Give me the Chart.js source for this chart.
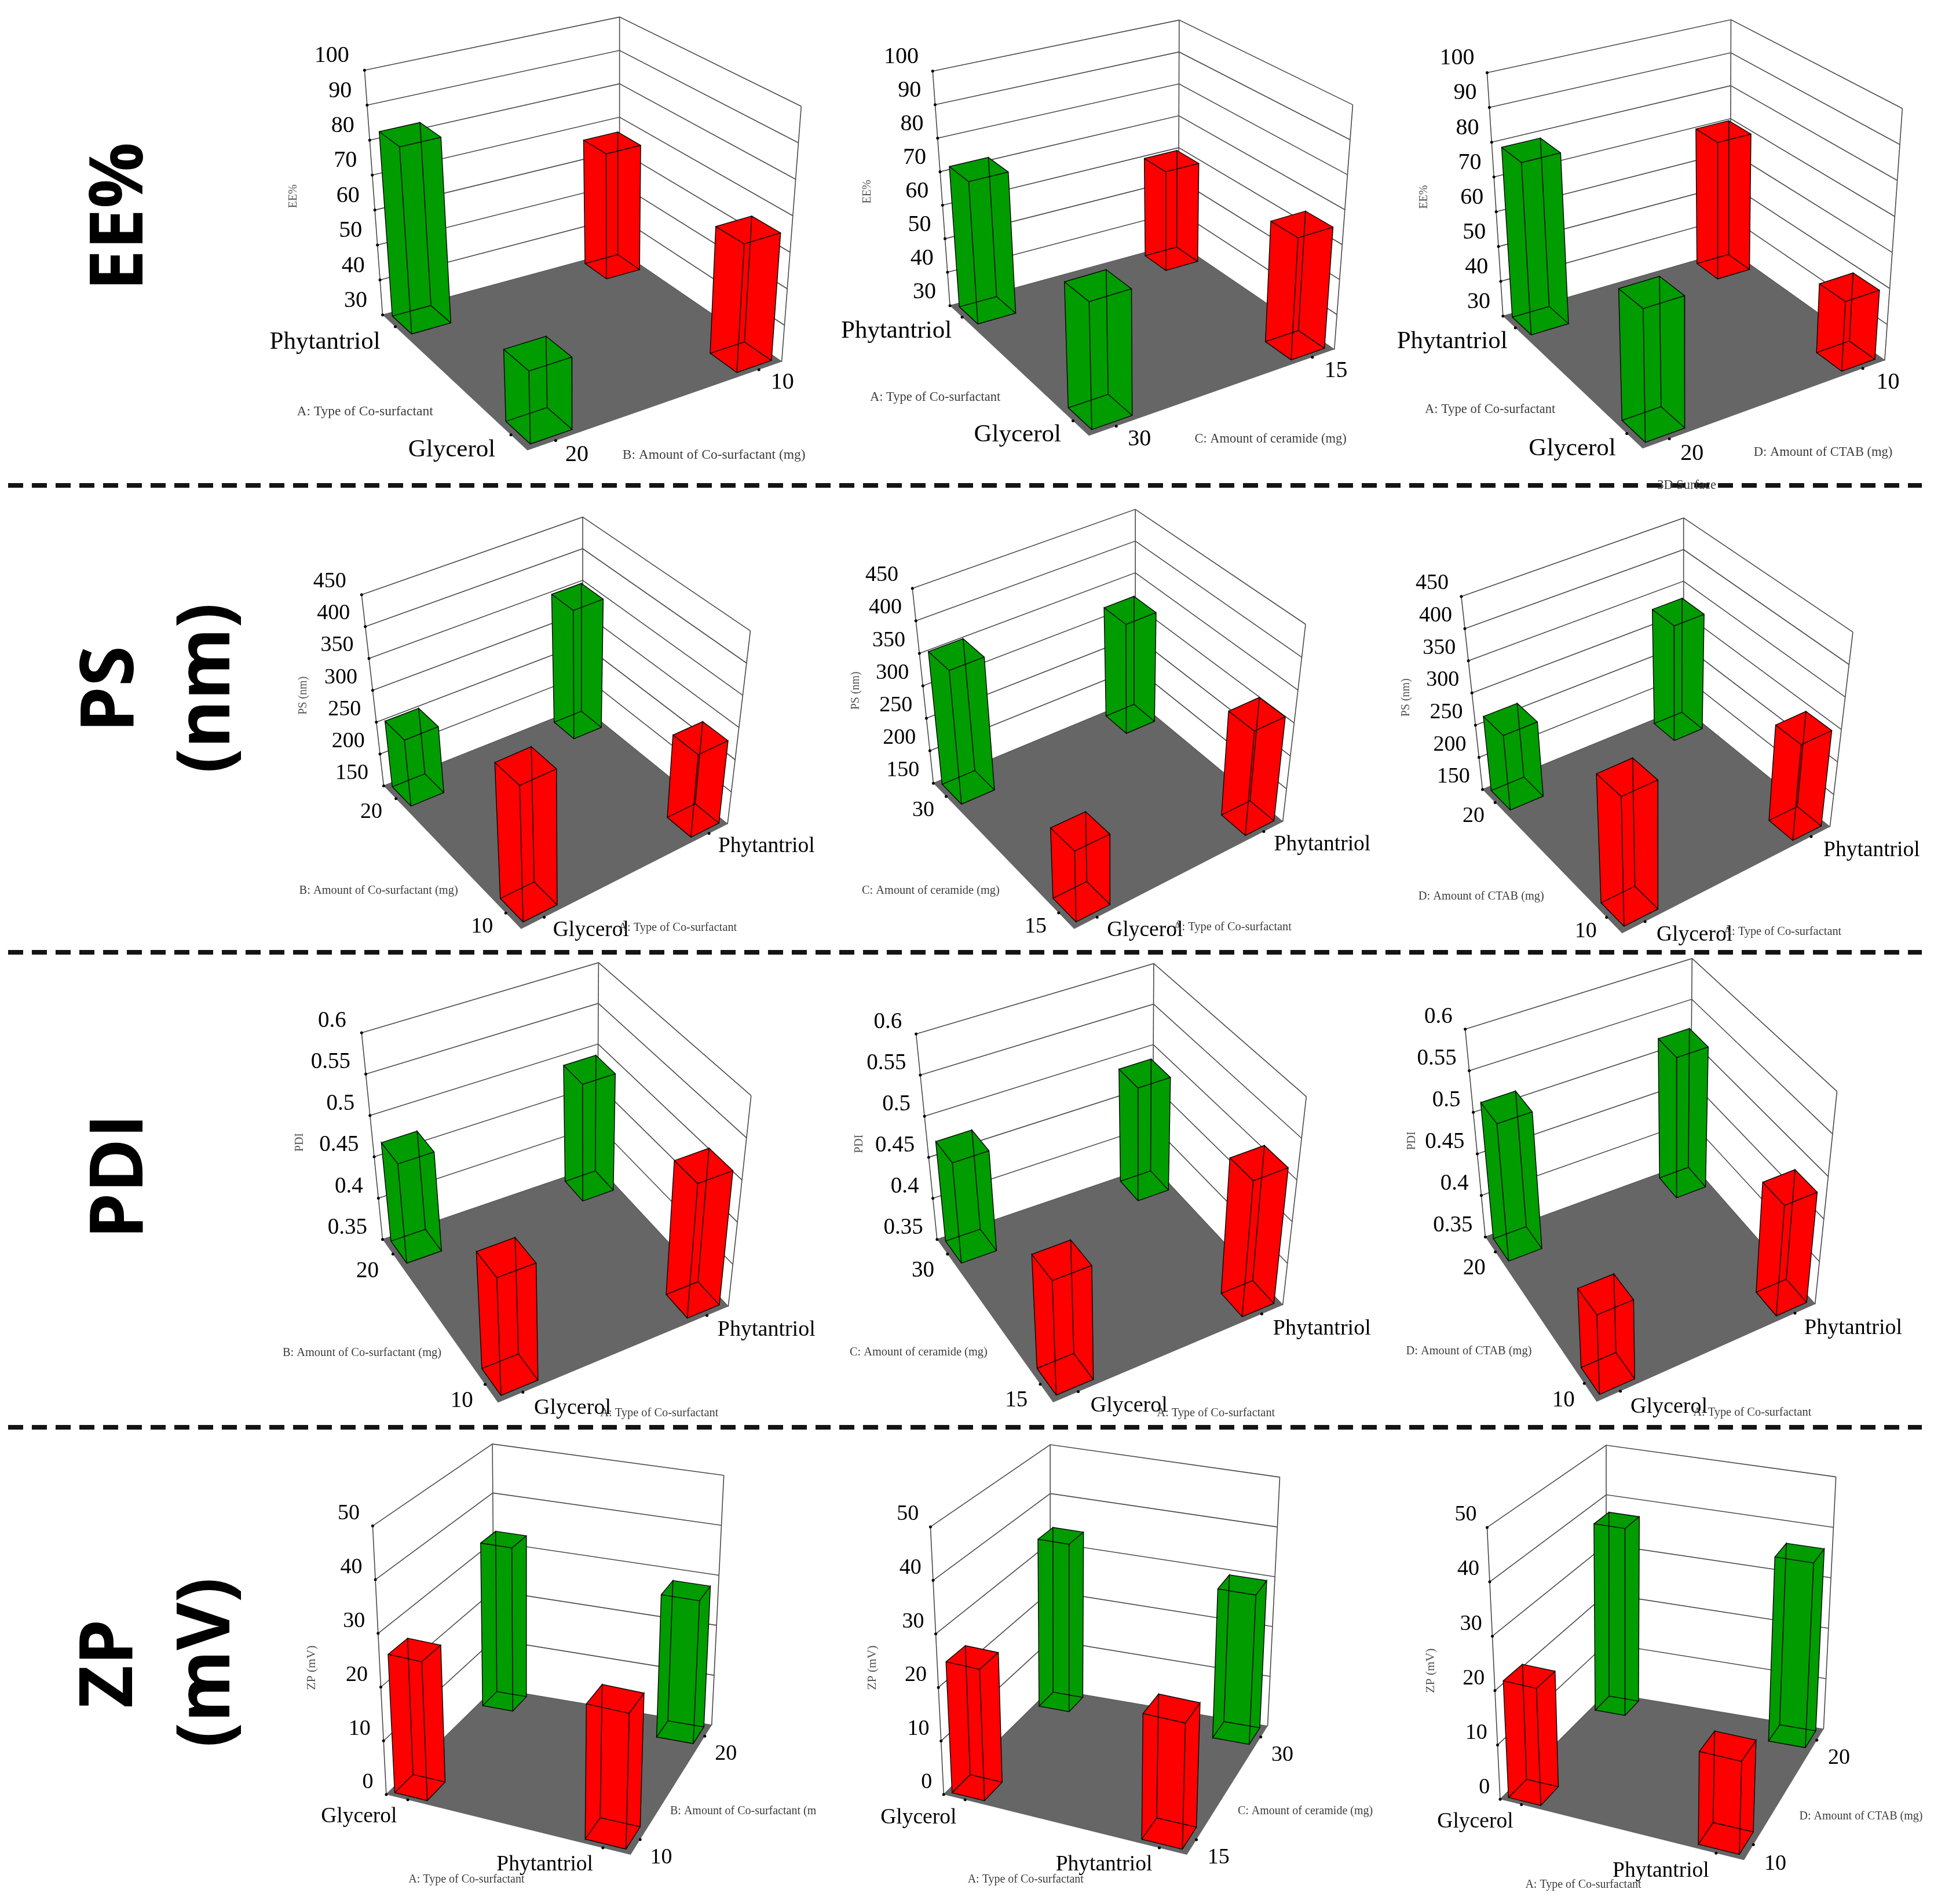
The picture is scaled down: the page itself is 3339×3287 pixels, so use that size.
<!DOCTYPE html>
<html>
<head>
<meta charset="utf-8">
<style>html,body{margin:0;padding:0;background:#fff}canvas{display:block;filter:blur(0.6px)}</style>
<script src="https://cdn.jsdelivr.net/npm/chart.js@4"></script>
</head>
<body>
<canvas id="c" width="3339" height="3287"></canvas>
<script>
// ---------- DATA: bar values are [near-left, front, back, right] corner of each floor ----------
const eeTicks  = [30,40,50,60,70,80,90,100];
const psTicks  = [150,200,250,300,350,400,450];
const pdiTicks = [0.35,0.4,0.45,0.5,0.55,0.6];
const zpTicks  = [0,10,20,30,40,50];

const eeByCoSurfactant = [82.7,49,66.6,65];
const eeByCeramide     = [71.8,64.6,60.2,64.7];
const eeByCtab         = [78.8,65,70.4,49.2];
const psByCoSurfactant = [253,358,352,278];
const psByCeramide     = [354,254,320,308];
const psByCtab         = [265,344,330,297];
const pdiByCoSurfactant = [0.469,0.486,0.492,0.509];
const pdiByCeramide     = [0.471,0.484,0.488,0.5125];
const pdiByCtab         = [0.5135,0.441,0.52,0.4795];
const zpByCoSurfactant = [25.8,24.7,32.7,28.1];
const zpByCeramide     = [24.5,23.1,33.6,29.5];
const zpByCtab         = [21.5,16.8,37,36];

const rowLabels = [["EE%"],["PS","(nm)"],["PDI"],["ZP","(mV)"]];
const typeTitle = "A: Type of Co-surfactant";
const coTitle = "B: Amount of Co-surfactant (mg)";
const cerTitle = "C: Amount of ceramide (mg)";
const ctabTitle = "D: Amount of CTAB (mg)";

const GREEN="#009c00", RED="#ff0000", FLOOR="#666666", GRID="#4a4a4a", EDGE="#0a0a0a";
const row1Colors=[GREEN,GREEN,RED,RED], row23Colors=[GREEN,RED,GREEN,RED], row4Colors=[RED,RED,GREEN,GREEN];
// font sizes per row: [category label, level number, axis title, value-axis title]
const row1Fonts=[43,40,22.5,20], row2Fonts=[37.5,38,20.4,20], row3Fonts=[38,39,20.4,20], row4Fonts=[37.5,38,20,21.5];

// ---------- LAYOUT: corners in a frame-local 1568×1568 space ----------
const panels = [
 {f:[440,0,1000,830], L:[342,1022],Lt:[293,222],B:[985,812],Bt:[985,48],R:[1425,1175],Rt:[1478,340],F:[735,1465],
  v:eeByCoSurfactant,t:eeTicks,c:row1Colors,fs:[43,40,23.5,20],
  txt:[["Phytantriol",190,1115,1],["Glycerol",533,1468,1],["10",1428,1248,2],["20",872,1483,2],[typeTitle,298,1342,0],[coTitle,1243,1485,0]],yt:["EE%",105,640]},
 {f:[1420,0,1000,830], L:[345,992],Lt:[298,225],B:[965,788],Bt:[967,58],R:[1388,1135],Rt:[1438,335],F:[722,1417],
  v:eeByCeramide,t:eeTicks,c:row1Colors,fs:row1Fonts,
  txt:[["Phytantriol",200,1080,1],["Glycerol",528,1418,1],["15",1390,1210,2],["30",858,1432,2],[typeTitle,305,1297,0],[cerTitle,1213,1432,0]],yt:["EE%",122,625]},
 {f:[2380,0,959,860], L:[355,990],Lt:[310,222],B:[998,783],Bt:[1000,55],R:[1435,1130],Rt:[1485,335],F:[750,1408],
  v:eeByCtab,t:eeTicks,c:row1Colors,fs:row1Fonts,
  txt:[["Phytantriol",208,1076,1],["Glycerol",547,1412,1],["10",1438,1205,2],["20",885,1428,2],[typeTitle,315,1290,0],[ctabTitle,1255,1425,0],["3D Surface",870,1528,0]],yt:["EE%",128,620]},
 {f:[440,860,1000,780], L:[345,997],Lt:[285,332],B:[885,722],Bt:[885,62],R:[1278,1130],Rt:[1340,458],F:[718,1495],
  v:psByCoSurfactant,t:psTicks,c:row23Colors,fs:row2Fonts,
  txt:[["20",315,1090,2],["10",615,1488,2],["Phytantriol",1385,1208,1],["Glycerol",910,1500,1],[coTitle,335,1363,0],[typeTitle,1145,1490,0]],yt:["PS (nm)",132,685]},
 {f:[1420,860,1000,780], L:[300,988],Lt:[243,310],B:[848,697],Bt:[848,35],R:[1248,1122],Rt:[1310,435],F:[682,1495],
  v:psByCeramide,t:psTicks,c:row23Colors,fs:row2Fonts,
  txt:[["30",273,1083,2],["15",577,1488,2],["Phytantriol",1353,1203,1],["Glycerol",873,1500,1],[cerTitle,293,1362,0],[typeTitle,1110,1488,0]],yt:["PS (nm)",90,668]},
 {f:[2380,860,959,780], L:[297,1010],Lt:[237,338],B:[865,725],Bt:[866,65],R:[1280,1140],Rt:[1345,462],F:[692,1510],
  v:psByCtab,t:psTicks,c:row23Colors,fs:row2Fonts,
  txt:[["20",268,1103,2],["10",585,1503,2],["Phytantriol",1392,1222,1],["Glycerol",892,1517,1],[ctabTitle,290,1382,0],[typeTitle,1140,1505,0]],yt:["PS (nm)",78,692]},
 {f:[440,1640,1000,820], L:[342,958],Lt:[285,274],B:[925,715],Bt:[928,42],R:[1280,1180],Rt:[1342,482],F:[655,1498],
  v:pdiByCoSurfactant,t:pdiTicks,c:row23Colors,fs:row3Fonts,
  txt:[["20",305,1060,2],["10",560,1490,2],["Phytantriol",1385,1255,1],["Glycerol",860,1512,1],[coTitle,290,1330,0],[typeTitle,1095,1530,0]],yt:["PDI",122,635]},
 {f:[1420,1640,1000,820], L:[310,958],Lt:[253,278],B:[895,715],Bt:[898,45],R:[1248,1175],Rt:[1312,485],F:[625,1497],
  v:pdiByCeramide,t:pdiTicks,c:row23Colors,fs:row3Fonts,
  txt:[["30",272,1058,2],["15",525,1487,2],["Phytantriol",1352,1250,1],["Glycerol",830,1505,1],[cerTitle,260,1328,0],[typeTitle,1065,1530,0]],yt:["PDI",100,640]},
 {f:[2380,1640,959,820], L:[305,950],Lt:[248,262],B:[885,703],Bt:[890,28],R:[1238,1172],Rt:[1300,468],F:[620,1495],
  v:pdiByCtab,t:pdiTicks,c:row23Colors,fs:row3Fonts,
  txt:[["20",270,1052,2],["10",522,1487,2],["Phytantriol",1340,1248,1],["Glycerol",820,1508,1],[ctabTitle,255,1325,0],[typeTitle,1055,1527,0]],yt:["PDI",95,630]},
 {f:[440,2470,1000,817], L:[352,1212],Lt:[315,320],B:[645,860],Bt:[640,48],R:[1235,982],Rt:[1268,152],F:[1015,1412],
  v:zpByCoSurfactant,t:zpTicks,c:row4Colors,fs:row4Fonts,off:[-20,-24],
  txt:[["Glycerol",282,1278,1],["Phytantriol",785,1438,1],["20",1275,1070,2],["10",1100,1415,2],[typeTitle,573,1487,0],["B: Amount of Co-surfactant (m",1322,1260,0]],yt:["ZP (mV)",155,785]},
 {f:[1420,2470,1000,817], L:[328,1212],Lt:[292,323],B:[618,862],Bt:[617,50],R:[1207,985],Rt:[1240,158],F:[988,1412],
  v:zpByCeramide,t:zpTicks,c:row4Colors,fs:row4Fonts,off:[-20,-24],
  txt:[["Glycerol",260,1283,1],["Phytantriol",762,1438,1],["30",1245,1075,2],["15",1072,1415,2],[typeTitle,550,1487,0],[cerTitle,1307,1260,0]],yt:["ZP (mV)",135,785]},
 {f:[2380,2470,959,817], L:[347,1228],Lt:[310,325],B:[648,875],Bt:[647,52],R:[1262,995],Rt:[1297,157],F:[1037,1430],
  v:zpByCtab,t:zpTicks,c:row4Colors,fs:row4Fonts,off:[-20,-24],
  txt:[["Glycerol",273,1295,1],["Phytantriol",797,1458,1],["20",1300,1085,2],["10",1120,1435,2],[typeTitle,578,1505,0],[ctabTitle,1362,1277,0]],yt:["ZP (mV)",147,795]}
];
const barCells = [[0,0],[1,0],[0,1],[1,1]];   // which corner of the floor each value stands in
const nearCell=[0.025,0.175], farCell=[0.825,0.975];
const dashYs=[836,1644,2466];

// ---------- projection helpers ----------
function quad(p0,p1,p2,p3){
  const [x0,y0]=p0,[x1,y1]=p1,[x2,y2]=p2,[x3,y3]=p3;
  const sx=x0-x1+x2-x3, sy=y0-y1+y2-y3, dx1=x1-x2, dx2=x3-x2, dy1=y1-y2, dy2=y3-y2, det=dx1*dy2-dx2*dy1;
  const g=(sx*dy2-dx2*sy)/det, h=(dx1*sy-sx*dy1)/det;
  const a=x1-x0+g*x1, b=x3-x0+h*x3, d=y1-y0+g*y1, e=y3-y0+h*y3;
  return (s,t)=>{const w=g*s+h*t+1;return [(a*s+b*t+x0)/w,(d*s+e*t+y0)/w];};
}
function hull(pts){
  const p=pts.slice().sort((a,b)=>a[0]-b[0]||a[1]-b[1]);
  const cr=(o,a,b)=>(a[0]-o[0])*(b[1]-o[1])-(a[1]-o[1])*(b[0]-o[0]);
  const lo=[],up=[];
  for(const q of p){while(lo.length>1&&cr(lo[lo.length-2],lo[lo.length-1],q)<=0)lo.pop();lo.push(q);}
  for(const q of p.slice().reverse()){while(up.length>1&&cr(up[up.length-2],up[up.length-1],q)<=0)up.pop();up.push(q);}
  return lo.slice(0,-1).concat(up.slice(0,-1));
}
function buildPanel(P){
  const m=q=>[P.f[0]+q[0]*P.f[2]/1568,P.f[1]+q[1]*P.f[3]/1568];
  const L=m(P.L),Lt=m(P.Lt),B=m(P.B),Bt=m(P.Bt),R=m(P.R),Rt=m(P.Rt),F=m(P.F);
  const len=(a,b)=>Math.hypot(a[0]-b[0],a[1]-b[1]);
  const hF=1/(1/len(L,Lt)+1/len(R,Rt)-1/len(B,Bt));
  // vertical edges converge: front top lies on the line from their vanishing point through F
  const d1=[Lt[0]-L[0],Lt[1]-L[1]],d2=[Rt[0]-R[0],Rt[1]-R[1]];
  const det=d1[0]*d2[1]-d1[1]*d2[0];
  const k=((R[0]-L[0])*d2[1]-(R[1]-L[1])*d2[0])/det;
  const V=[L[0]+k*d1[0],L[1]+k*d1[1]];
  const dv=[F[0]-V[0],F[1]-V[1]],dl=Math.hypot(dv[0],dv[1]);
  const sign=dv[1]>0?-1:1;
  const Ft=[F[0]+sign*dv[0]/dl*hF,F[1]+sign*dv[1]/dl*hF];
  const floorH=quad(L,F,R,B), topH=quad(Lt,Ft,Rt,Bt);
  const zmin=P.t[0], zmax=P.t[P.t.length-1];
  const project=(s,t,v)=>{const z=(v-zmin)/(zmax-zmin),a=floorH(s,t),b=topH(s,t);return [a[0]+(b[0]-a[0])*z,a[1]+(b[1]-a[1])*z];};
  return {project,zmin,L,F,R,B,Lt,Bt,Rt};
}

// ---------- datasets ----------
const sets=[];
const xy=a=>({x:a[0],y:a[1]});
const addLine=(pts,color,w,dash)=>sets.push({data:pts.map(xy),showLine:true,fill:false,borderColor:color,borderWidth:w,borderDash:dash||[],pointRadius:0,tension:0});
const addPoly=(pts,color)=>sets.push({data:pts.map(xy),showLine:true,fill:'shape',backgroundColor:color,borderColor:color,borderWidth:0,pointRadius:0,tension:0});
const addDots=pts=>sets.push({data:pts.map(xy),showLine:false,pointRadius:2.5,pointBackgroundColor:"#000",pointBorderWidth:0});
const texts=[];
const serif=n=>n+"px 'Liberation Serif'";

panels.forEach(P=>{
  const G=buildPanel(P), pr=G.project;
  // walls
  P.t.forEach(v=>addLine([pr(0,0,v),pr(0,1,v),pr(1,1,v)],GRID,1.6));
  addLine([G.L,G.Lt],GRID,1.6); addLine([G.B,G.Bt],GRID,1.6); addLine([G.R,G.Rt],GRID,1.6);
  // floor
  addPoly([G.L,G.F,G.R,G.B],FLOOR);
  // tick dots
  addDots(P.t.map(v=>pr(0,0,v)).concat([pr(.1,0,G.zmin),pr(.9,0,G.zmin),pr(1,.1,G.zmin),pr(1,.9,G.zmin)]));
  // bars, back to front
  [2,0,3,1].forEach(i=>{
    const cs=barCells[i][0]?farCell:nearCell, ct=barCells[i][1]?farCell:nearCell, v=P.v[i];
    const b=[pr(cs[0],ct[0],G.zmin),pr(cs[1],ct[0],G.zmin),pr(cs[1],ct[1],G.zmin),pr(cs[0],ct[1],G.zmin)];
    const u=[pr(cs[0],ct[0],v),pr(cs[1],ct[0],v),pr(cs[1],ct[1],v),pr(cs[0],ct[1],v)];
    addPoly(hull(b.concat(u)),P.c[i]);
    addLine([b[0],b[1],b[2],b[3],b[0],u[0],u[1],b[1],u[1],u[2],b[2],u[2],u[3],b[3],u[3],u[0]],EDGE,1.5);
  });
  // value tick labels
  const off=P.off||[-24,-21];
  P.t.forEach(v=>{const p=pr(0,0,v);texts.push({s:String(v),x:p[0]+off[0],y:p[1]+off[1],a:"right",font:serif(P.fs[1]),c:"#000"});});
  // category labels and axis titles
  P.txt.forEach(([s,x,y,kind])=>{
    texts.push({s,x:P.f[0]+x*P.f[2]/1568,y:P.f[1]+y*P.f[3]/1568,a:"center",
      font:serif(kind===1?P.fs[0]:kind===2?P.fs[1]:P.fs[2]),c:kind?"#000":"#3c3c3c"});
  });
  texts.push({s:P.yt[0],x:P.f[0]+P.yt[1]*P.f[2]/1568,y:P.f[1]+P.yt[2]*P.f[3]/1568,a:"center",font:serif(P.fs[3]),c:"#555",rot:true});
});
dashYs.forEach(y=>addLine([[10,y],[3322,y]],"#141414",8,[26,15]));

// row headings (rotated)
const headingSpots=[[[210,374]],[[194,1190],[360,1188]],[[210,2031]],[[192,2872],[360,2870]]];
rowLabels.forEach((lines,i)=>lines.forEach((s,j)=>texts.push({s,x:headingSpots[i][j][0],y:headingSpots[i][j][1],a:"center",font:"bold 127px 'Open Sans'",c:"#000",rot:true})));

sets.forEach((d,i)=>{d.order=-i;d.clip=false;});

const textPlugin={id:'labels',afterDatasetsDraw(chart){
  const ctx=chart.ctx; ctx.save(); ctx.textBaseline="middle";
  texts.forEach(t=>{
    ctx.save(); ctx.font=t.font; ctx.fillStyle=t.c; ctx.textAlign=t.a;
    ctx.translate(t.x,t.y); if(t.rot)ctx.rotate(-Math.PI/2);
    ctx.fillText(t.s,0,0); ctx.restore();
  });
  ctx.restore();
}};

new Chart(document.getElementById('c'),{
  type:'scatter',
  data:{datasets:sets},
  plugins:[textPlugin],
  options:{
    responsive:false,animation:false,devicePixelRatio:1,events:[],
    layout:{padding:0},
    plugins:{legend:{display:false},tooltip:{enabled:false},title:{display:false}},
    scales:{
      x:{type:'linear',min:0,max:3339,display:false},
      y:{type:'linear',min:0,max:3287,reverse:true,display:false}
    }
  }
});
</script>
</body>
</html>
